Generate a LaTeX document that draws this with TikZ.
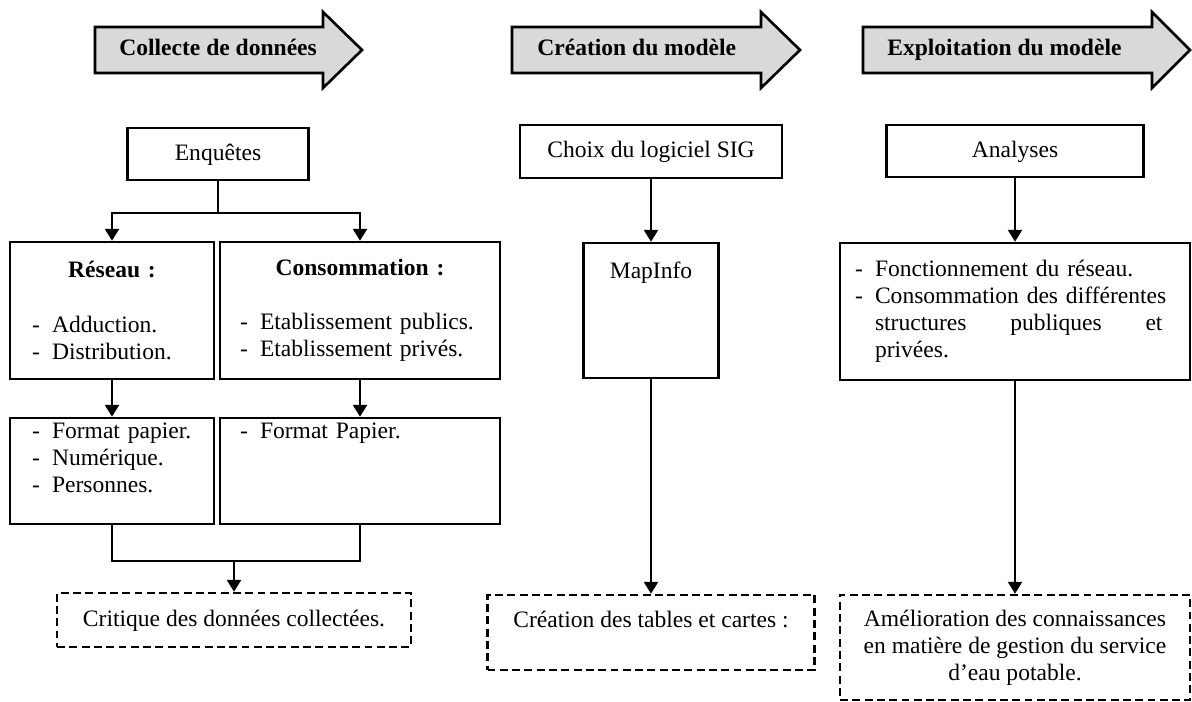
\documentclass[tikz,border=0pt]{standalone}
\usepackage{fontspec}
\setmainfont{Liberation Serif}
\usetikzlibrary{arrows.meta}
\setlength{\parindent}{0pt}
\newcommand{\bodyfont}{\fontsize{13.4}{15.4}\selectfont}
\newcommand{\puce}{\makebox[0.4cm][l]{-}}

\begin{document}
\begin{tikzpicture}[
    x=0.02cm, y=-0.02cm,
    box/.style={draw, line width=1.4pt, inner sep=0pt, font=\bodyfont, align=center},
    onebox/.style={box, text height=10pt, text depth=3pt},
    listbox/.style={box, align=left, inner xsep=0.44cm},
    dashbox/.style={box, dash pattern=on 4.5pt off 2.5pt},
    phase/.style={draw, line width=1.5pt, fill=black!15},
    phasetext/.style={anchor=base west, font=\bodyfont\bfseries, inner sep=0pt},
    arr/.style={-{Triangle[length=0.24cm, width=0.28cm]}, line width=1.4pt},
    link/.style={line width=1.4pt},
  ]
    \useasboundingbox (0,0) rectangle (1192,702);

    % --- Phases ---
    \draw[phase] (95,27) -- (323,27) -- (323,12) -- (362,50) -- (323,88) -- (323,73) -- (95,73) -- cycle;
    \node[phasetext] (collecte) at (119,56) {Collecte de données};
    \draw[phase] (512,27) -- (761,27) -- (761,12) -- (800,50) -- (761,88) -- (761,73) -- (512,73) -- cycle;
    \node[phasetext] (creation) at (537,56) {Création du modèle};
    \draw[phase] (863,27) -- (1152,27) -- (1152,12) -- (1190,50) -- (1152,88) -- (1152,73) -- (863,73) -- cycle;
    \node[phasetext] (exploit) at (887,56) {Exploitation du modèle};

    % --- Collecte de données ---
    \node[onebox, minimum width=3.62cm, minimum height=1.04cm] (enquetes) at (218,154) {Enquêtes};
    \node[listbox, text width=3.2cm, minimum height=2.74cm] (reseau) at (112,310.5)
      {{\centering\textbf{Réseau :}\par}\vspace{15.4pt}
       \puce Adduction.\\\puce Distribution.};
    \node[listbox, inner xsep=0.4cm, text width=4.8cm, minimum height=2.74cm] (conso) at (360,310.5)
      {{\centering\textbf{Consommation :}\par}\vspace{15.4pt}
       \puce Etablissement publics.\\\puce Etablissement privés.};
    \node[listbox, text width=3.2cm, minimum height=2.12cm] (fmtres) at (112,471)
      {\puce Format papier.\\\puce Numérique.\\\puce Personnes.\\\mbox{}};
    \node[listbox, inner xsep=0.4cm, text width=4.8cm, minimum height=2.12cm] (fmtcons) at (360,471)
      {\puce Format Papier.\\\mbox{}\\\mbox{}\\\mbox{}};
    \node[onebox, dashbox, minimum width=7.08cm, minimum height=1.08cm] (critique) at (234,620)
      {Critique des données collectées.};
    \coordinate (merge) at (234,560);

    \draw[arr] (enquetes.south) -- ++(0,32) -| (reseau.north);
    \draw[arr] (enquetes.south) -- ++(0,32) -| (conso.north);
    \draw[arr] (reseau) -- (fmtres);
    \draw[arr] (conso) -- (fmtcons);
    \draw[link] (fmtres.south) -- ++(0,36) -| (fmtcons.south);
    \draw[arr] (merge) -- (critique);

    % --- Création du modèle ---
    \node[onebox, minimum width=5.24cm, minimum height=1.06cm] (choix) at (651,151.5) {Choix du logiciel SIG};
    \node[box, minimum width=2.7cm, minimum height=2.7cm] (mapinfo) at (651,310.5)
      {MapInfo\\\mbox{}\\\mbox{}\\\mbox{}};
    \node[dashbox, minimum width=6.54cm, minimum height=1.5cm] (tables) at (651,632.5)
      {Création des tables et cartes :\\\mbox{}};

    \draw[arr] (choix) -- (mapinfo);
    \draw[arr] (mapinfo) -- (tables);

    % --- Exploitation du modèle ---
    \node[onebox, minimum width=5.14cm, minimum height=1.04cm] (analyses) at (1015,151) {Analyses};
    \node[listbox, inner xsep=0.3cm, text width=6.4cm, minimum height=2.74cm] (fonct) at (1015,311.5)
      {\puce Fonctionnement du réseau.\\
       \puce Consommation des différentes\\
       \hspace*{0.4cm}\makebox[5.75cm][s]{structures\hfill publiques\hfill et}\\
       \hspace*{0.4cm}privées.};
    \node[dashbox, minimum width=7.0cm, minimum height=2.1cm] (amelio) at (1015,647.5)
      {Amélioration des connaissances\\en matière de gestion du service\\d’eau potable.};

    \draw[arr] (analyses) -- (fonct);
    \draw[arr] (fonct) -- (amelio);
  \end{tikzpicture}
\end{document}
